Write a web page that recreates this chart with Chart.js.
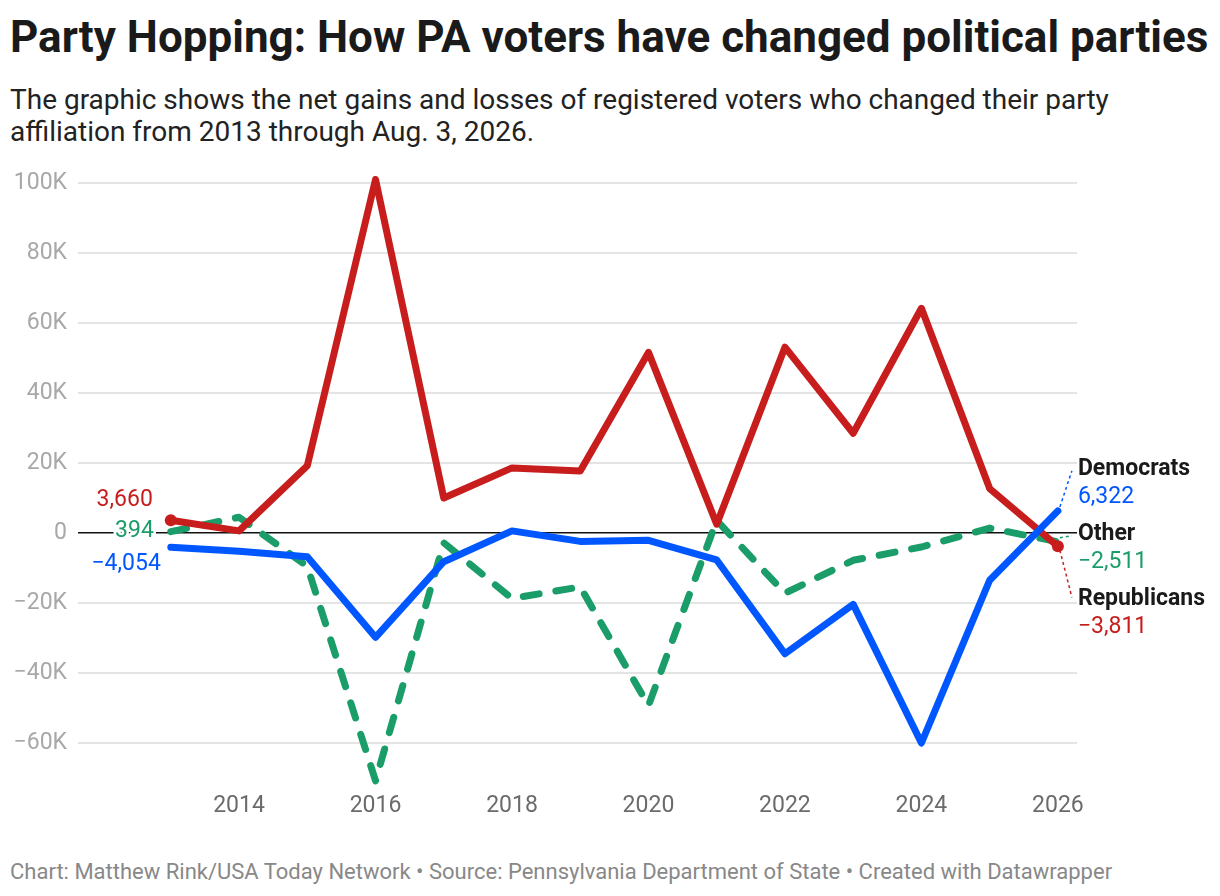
<!DOCTYPE html>
<html>
<head>
<meta charset="utf-8">
<script src="https://cdn.jsdelivr.net/npm/chart.js@4"></script>
<style>
    body { margin: 0; background: #fff; font-family: Roboto, sans-serif; }
    #wrap { position: relative; width: 1220px; height: 896px; overflow: hidden; }
    #title { position: absolute; left: 10px; top: 11px; font-size: 44px; font-weight: 700; color: #1a1a1a; white-space: nowrap; }
    #subtitle { position: absolute; left: 10px; top: 84px; width: 1150px; font-size: 28px; line-height: 32px; color: #222; }
    #footer { position: absolute; left: 10px; top: 859px; font-size: 22px; color: #888; white-space: nowrap; }
    #chartBox { position: absolute; left: 0; top: 150px; width: 1220px; height: 700px; }
</style>
</head>
<body>
<div id="wrap">
    <div id="title">Party Hopping: How PA voters have changed political parties</div>
    <div id="subtitle">The graphic shows the net gains and losses of registered voters who changed their party affiliation from 2013 through Aug. 3, 2026.</div>
    <div id="chartBox"><canvas id="chart"></canvas></div>
    <div id="footer">Chart: Matthew Rink/USA Today Network • Source: Pennsylvania Department of State • Created with Datawrapper</div>
</div>
<script>
// Data (net party switches per year)
const years = [2013, 2014, 2015, 2016, 2017, 2018, 2019, 2020, 2021, 2022, 2023, 2024, 2025, 2026];
const democrats = [-4054, -5200, -6800, -29800, -8200, 600, -2400, -2100, -7700, -34500, -20400, -60000, -13500, 6322];
const republicans = [3660, 600, 19200, 101000, 10000, 18600, 17700, 51600, 2500, 53100, 28500, 64200, 12700, -3811];
const other = [394, 4500, -9500, -70800, -2800, -18700, -15400, -49300, 3600, -17200, -7800, -4000, 1400, -2511];

const xTicks = [2014, 2016, 2018, 2020, 2022, 2024, 2026];
const yTicks = [100000, 80000, 60000, 40000, 20000, 0, -20000, -40000, -60000];
const yTickLabels = ['100K', '80K', '60K', '40K', '20K', '0', '−20K', '−40K', '−60K'];

const seriesNames = ['Democrats', 'Republicans', 'Other'];
const endLabels = ['6,322', '−3,811', '−2,511'];
const startLabels = ['−4,054', '3,660', '394'];

const BLUE = '#0057ff';
const RED = '#c71e1d';
const GREEN = '#1a9d68';
const colors = [BLUE, RED, GREEN];

function toPoints(values) {
    return years.map((yr, i) => ({ x: yr, y: values[i] }));
}

// only the first and last red points get a dot
const redRadius = years.map((_, i) => (i === 0 || i === years.length - 1) ? 6 : 0);

// Labels at the start and end of each line, drawn from the scales
const labelPlugin = {
    id: 'lineLabels',
    afterDatasetsDraw(chart) {
        const ctx = chart.ctx;
        const xs = chart.scales.x;
        const ys = chart.scales.y;
        const series = [democrats, republicans, other];
        const last = years.length - 1;

        ctx.save();
        ctx.textBaseline = 'middle';
        ctx.lineJoin = 'round';

        // start labels (left side)
        const startOffsets = [[-10, 17], [-18, -20], [-17, 0]];
        series.forEach((vals, i) => {
            const px = xs.getPixelForValue(years[0]) + startOffsets[i][0];
            const py = ys.getPixelForValue(vals[0]) + startOffsets[i][1];
            ctx.font = '23px Roboto';
            ctx.textAlign = 'right';
            ctx.strokeStyle = '#fff';
            ctx.lineWidth = 5;
            ctx.strokeText(startLabels[i], px, py);
            ctx.fillStyle = colors[i];
            ctx.fillText(startLabels[i], px, py);
        });

        // end labels (right side) with dotted leaders
        const nameOffsets = [-42, 53, -8];
        const labelX = xs.getPixelForValue(years[last]) + 20;
        series.forEach((vals, i) => {
            const ex = xs.getPixelForValue(years[last]);
            const ey = ys.getPixelForValue(vals[last]);
            const ny = ey + nameOffsets[i];

            ctx.beginPath();
            ctx.setLineDash([3, 3]);
            ctx.lineWidth = 1.5;
            ctx.strokeStyle = colors[i];
            ctx.moveTo(ex + 2, ey + (nameOffsets[i] > 0 ? 4 : -4));
            ctx.lineTo(labelX - 6, ny + (nameOffsets[i] > 0 ? -2 : 2));
            ctx.stroke();
            ctx.setLineDash([]);

            ctx.textAlign = 'left';
            ctx.font = 'bold 23px Roboto';
            ctx.fillStyle = '#1a1a1a';
            ctx.fillText(seriesNames[i], labelX, ny);
            ctx.font = '23px Roboto';
            ctx.fillStyle = colors[i];
            ctx.fillText(endLabels[i], labelX, ny + 28);
        });
        ctx.restore();
    }
};

const ctx = document.getElementById('chart').getContext('2d');
new Chart(ctx, {
    type: 'line',
    data: {
        datasets: [
            {
                label: seriesNames[0],
                data: toPoints(democrats),
                borderColor: BLUE,
                borderWidth: 7,
                pointRadius: 0,
                borderCapStyle: 'round',
                borderJoinStyle: 'round',
                tension: 0
            },
            {
                label: seriesNames[1],
                data: toPoints(republicans),
                borderColor: RED,
                backgroundColor: RED,
                borderWidth: 7,
                pointRadius: redRadius,
                pointBorderWidth: 0,
                borderCapStyle: 'round',
                borderJoinStyle: 'round',
                tension: 0
            },
            {
                label: seriesNames[2],
                data: toPoints(other),
                borderColor: GREEN,
                borderWidth: 7,
                borderDash: [16, 17],
                pointRadius: 0,
                borderCapStyle: 'round',
                borderJoinStyle: 'round',
                tension: 0
            }
        ]
    },
    options: {
        responsive: true,
        maintainAspectRatio: false,
        animation: false,
        layout: { padding: { top: 26, right: 143, left: 0, bottom: 0 } },
        plugins: {
            legend: { display: false },
            tooltip: { enabled: false }
        },
        scales: {
            x: {
                type: 'linear',
                min: 2011.64,
                max: 2026.28,
                afterBuildTicks: s => { s.ticks = xTicks.map(v => ({ value: v })); },
                afterFit: s => { s.height = 65; },
                grid: { display: false, drawTicks: false },
                border: { display: false },
                ticks: {
                    padding: 7,
                    color: '#6b6b6b',
                    font: { family: 'Roboto', size: 23 },
                    callback: v => String(v)
                }
            },
            y: {
                min: -72000,
                max: 102000,
                afterBuildTicks: s => { s.ticks = yTicks.map(v => ({ value: v })); },
                afterFit: s => { s.width = 78; },
                grid: {
                    drawTicks: false,
                    color: c => c.tick && c.tick.value === 0 ? '#111' : '#e4e4e4',
                    lineWidth: c => c.tick && c.tick.value === 0 ? 1.6 : 2
                },
                border: { display: false },
                ticks: {
                    padding: 11,
                    color: '#a8a8a8',
                    font: { family: 'Roboto', size: 23 },
                    callback: v => yTickLabels[yTicks.indexOf(v)]
                }
            }
        }
    },
    plugins: [labelPlugin]
});
</script>
</body>
</html>
